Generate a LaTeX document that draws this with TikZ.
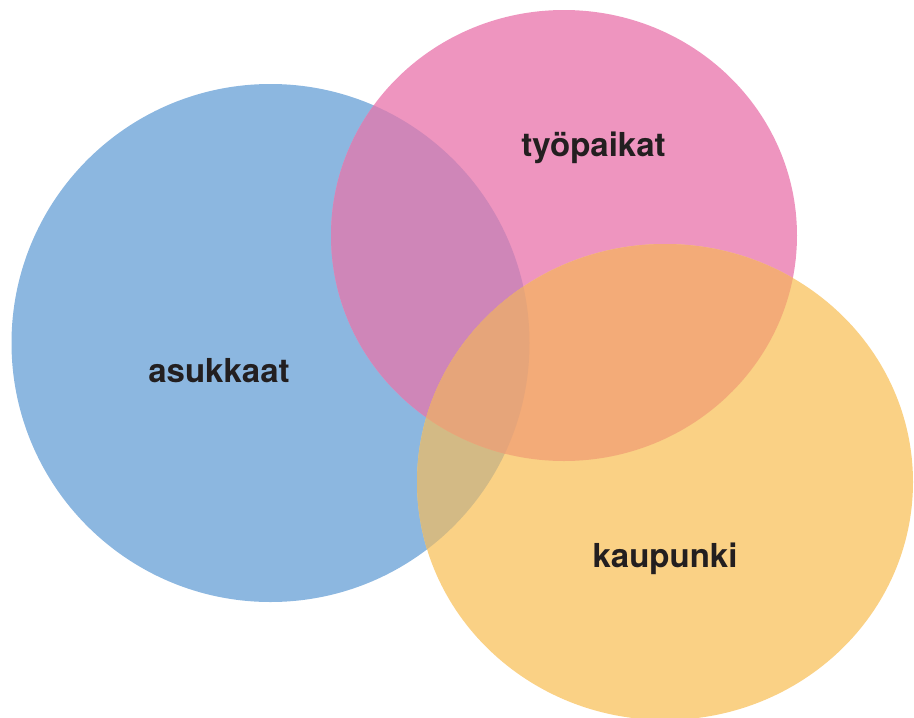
\documentclass[tikz,border=0pt]{standalone}
\usepackage{fontspec}
\setmainfont{TeX Gyre Heros}
\definecolor{blueset}{HTML}{8CB7E0}
\definecolor{pinkset}{HTML}{EE95BF}
\definecolor{yellowset}{HTML}{FAD185}
\definecolor{bluepink}{HTML}{CF86B8}
\definecolor{pinkyellow}{HTML}{F3AB78}
\definecolor{blueyellow}{HTML}{D3BA85}
\definecolor{allthree}{HTML}{E6A57A}
\definecolor{txtdark}{HTML}{231F20}

\begin{document}
\begin{tikzpicture}[x=1pt,y=-1pt]
						\tikzstyle{ringtext} = [font=\bfseries\fontsize{33}{33}\selectfont,text=txtdark,anchor=base,inner sep=0pt]
						\def\asukkaat{(270.5,343) circle [radius=259pt]}
						\def\tyopaikat{(564,235.5) ellipse [x radius=233pt,y radius=225.5pt]}
						\def\kaupunki{(665,482) ellipse [x radius=248pt,y radius=238pt]}
						\useasboundingbox (0,0) rectangle (914,718);
						\fill[blueset] \asukkaat;
						\fill[pinkset] \tyopaikat;
						\fill[yellowset] \kaupunki;
						% overlaps
						\begin{scope}
						\clip \asukkaat;
						\fill[bluepink] \tyopaikat;
						\fill[blueyellow] \kaupunki;
						\end{scope}
						\begin{scope}
						\clip \tyopaikat;
						\fill[pinkyellow] \kaupunki;
						\end{scope}
						\begin{scope}
						\clip \asukkaat;
						\clip \tyopaikat;
						\fill[allthree] \kaupunki;
						\end{scope}
						\node[ringtext] (asuk) at (219,382) {asukkaat};
						\node[ringtext] (tyop) at (593.5,156) {työpaikat};
						\node[ringtext] (kaup) at (665,567) {kaupunki};
						\end{tikzpicture}
\end{document}
